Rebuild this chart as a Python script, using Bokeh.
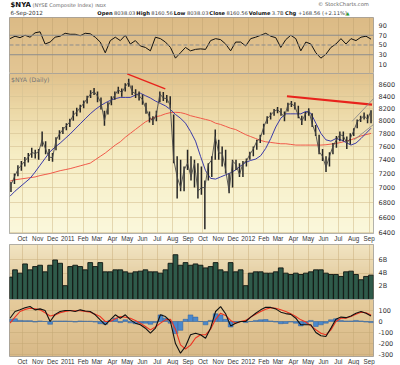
import numpy as np
import pandas as pd
from bokeh.plotting import figure
from bokeh.layouts import column
from bokeh.models import Range1d, FixedTicker, Span
from bokeh.core.properties import value
from bokeh.embed import file_html
from bokeh.resources import INLINE

# ---------------- data ----------------
WEEK_START = "2010-09-08"          # weekly price bars
price_close = [7040, 7150, 7260, 7320, 7380, 7440, 7510, 7490, 7520, 7700,
               7560, 7440, 7430, 7690, 7790, 7860, 7920, 7980, 8090, 8140,
               8210, 8280, 8360, 8440, 8480, 8400, 8290, 8000, 8240, 8330,
               8420, 8510, 8460, 8560, 8640, 8480, 8440, 8410, 8340, 8190,
               8060, 7990, 8100, 8440, 8370, 8360, 8250, 7400, 7150, 7000,
               7250, 7350, 7150, 7350, 6950, 7000, 7000, 7330, 7400, 7750,
               7500, 7500, 7250, 6950, 7380, 7330, 7180, 7350, 7380, 7480,
               7560, 7680, 7720, 7900, 8030, 8090, 8150, 8180, 8120, 8060,
               8260, 8280, 8230, 8080, 7990, 8100, 8170, 7950, 7800, 7520,
               7450, 7290, 7450, 7600, 7700, 7780, 7760, 7650, 7720, 7840,
               7980, 8030, 8080, 8020, 8160]
price_high = [7080, 7200, 7320, 7380, 7440, 7500, 7580, 7550, 7560, 7830,
              7680, 7560, 7500, 7740, 7850, 7900, 7960, 8030, 8160, 8210,
              8260, 8330, 8410, 8500, 8540, 8480, 8380, 8160, 8300, 8400,
              8480, 8560, 8530, 8620, 8700, 8580, 8520, 8480, 8430, 8290,
              8150, 8070, 8160, 8480, 8470, 8420, 8400, 8100, 7450, 7400,
              7300, 7550, 7450, 7400, 7350, 7300, 7100, 7350, 7450, 7860,
              7700, 7600, 7550, 7200, 7400, 7400, 7350, 7380, 7420, 7520,
              7600, 7700, 7780, 7950, 8070, 8130, 8190, 8220, 8200, 8150,
              8290, 8320, 8300, 8240, 8080, 8140, 8200, 8120, 7930, 7780,
              7560, 7450, 7510, 7650, 7760, 7830, 7830, 7750, 7800, 7880,
              8020, 8080, 8130, 8100, 8170]
price_low = [6940, 7050, 7160, 7240, 7300, 7360, 7430, 7420, 7400, 7600,
             7480, 7380, 7370, 7540, 7700, 7790, 7850, 7900, 8000, 8070,
             8130, 8200, 8280, 8370, 8420, 8300, 8180, 7920, 8100, 8250,
             8340, 8440, 8390, 8480, 8560, 8420, 8370, 8330, 8260, 8110,
             7970, 7930, 7990, 8300, 8320, 8290, 8200, 7350, 6850, 6950,
             6950, 7250, 7100, 7000, 6850, 6900, 6440, 7100, 7150, 7400,
             7400, 7300, 7200, 6920, 7000, 7250, 7150, 7150, 7300, 7400,
             7450, 7550, 7650, 7780, 7950, 8020, 8080, 8120, 8080, 7990,
             8150, 8220, 8180, 8040, 7930, 8000, 8080, 7900, 7760, 7480,
             7380, 7220, 7300, 7480, 7580, 7680, 7680, 7560, 7630, 7760,
             7880, 7980, 8020, 7960, 7960]

GRID_START, GRID_END = "2010-09-06", "2012-09-05"   # ~10-day sampling grid
rsi14 = [63, 68, 65, 70, 66, 75, 77, 52, 56, 66, 68, 74, 72, 72, 69, 74, 73, 66, 56, 34,
         59, 66, 59, 70, 52, 59, 48, 45, 38, 66, 63, 56, 45, 23, 34, 45, 38, 41, 42,
         41, 59, 63, 61, 52, 38, 56, 56, 48, 63, 66, 70, 74, 68, 65, 45, 61, 70, 63, 38,
         56, 52, 34, 23, 31, 45, 52, 63, 52, 63, 59, 66, 68, 62]
sma50 = [6880, 6950, 7010, 7070, 7130, 7220, 7320, 7420, 7520, 7590,
         7650, 7720, 7790, 7870, 7950, 8030, 8110, 8180, 8240, 8290,
         8330, 8360, 8380, 8380, 8380, 8420, 8450, 8410, 8370, 8320,
         8280, 8240, 8180, 8100, 8040, 7960, 7830, 7680, 7450, 7240,
         7130, 7120, 7150, 7180, 7210, 7250, 7310, 7360, 7390, 7410,
         7460, 7570, 7720, 7900, 8040, 8110, 8110, 8110, 8110, 8150,
         8120, 7960, 7800, 7700, 7680, 7720, 7700, 7660, 7620, 7650,
         7720, 7800, 7880]
sma200 = [7090, 7110, 7120, 7130, 7140, 7150, 7170, 7185, 7200, 7220,
          7240, 7255, 7270, 7290, 7310, 7330, 7350, 7400, 7450, 7500,
          7560, 7620, 7670, 7740, 7800, 7860, 7920, 7980, 8020, 8060,
          8080, 8110, 8130, 8135, 8130, 8110, 8080, 8060, 8040, 8020,
          8000, 7960, 7940, 7910, 7880, 7860, 7820, 7780, 7750, 7720,
          7690, 7670, 7660, 7650, 7640, 7640, 7630, 7620, 7620, 7620,
          7620, 7620, 7620, 7625, 7635, 7645, 7660, 7680, 7700, 7730,
          7760, 7780, 7800]
volume_bn = [3.4, 4.5, 4.0, 5.4, 4.5, 5.0, 5.2, 4.2, 5.2, 6.0, 5.5, 2.1, 5.0, 5.2, 5.0,
             4.5, 5.6, 5.0, 5.6, 4.2, 4.2, 4.5, 4.5, 4.2, 4.0, 4.2, 4.3, 4.5, 4.2, 4.2,
             4.0, 4.5, 5.5, 6.8, 5.2, 5.6, 5.2, 5.4,
             5.2, 4.8, 5.0, 5.6, 4.5, 4.2, 5.6, 4.2, 4.5, 2.1, 4.0, 4.2, 4.2, 4.0, 4.0,
             4.2, 4.8, 4.0, 3.8, 4.0, 3.8, 4.0, 4.2, 4.5, 4.5, 4.0, 3.8, 3.8, 3.5, 4.2,
             4.3, 3.8, 3.0, 3.5, 3.7]
macd_line = [30, 91, 106, 125, 136, 106, 115, 100, 0, 65,
             91, 100, 100, 91, 106, 95, 91, 61, 15, -30,
             15, 61, 30, 61, 15, -15, -30, -61, -106, -61,
             61, 45, 0, -200, -288, -227, -121, -106, -121, -152,
             -61, 91, 135, 70, -40, -15, 0, 0, 40, 75,
             106, 130, 128, 115, 85, 72, 65, 30, -30, -30,
             -30, -100, -130, -136, -60, 20, 40, 35, 50, 75,
             91, 75, 50]
macd_signal = [-15, 40, 91, 110, 121, 115, 106, 80, 50, 60,
               80, 92, 98, 98, 98, 92, 85, 65, 45, 0,
               0, 25, 45, 38, 30, 10, -15, -45, -76, -50,
               -15, 15, 20, -70, -212, -250, -215, -150, -121, -121,
               -70, 20, 76, 55, 10, -15, 0, 10, 40, 65,
               91, 112, 125, 120, 106, 90, 70, 45, 15, -5,
               -40, -75, -106, -121, -76, 0, 30, 30, 45, 65,
               85, 80, 60]
macd_hist = [20, 25, 10, 8, 8, -5, 5, 0, -25, 5,
             5, 5, 3, -5, 5, 3, 3, -5, -20, -25,
             10, 30, -10, 15, -12, -20, -15, -15, -25, -10,
             60, 30, -15, -110, -80, 20, 60, 40, 0, -30,
             10, 70, 60, 20, -50, -5, 0, -10, 0, 10,
             15, 18, 5, -5, -20, -18, -5, -15, -40, -25,
             10, -45, -30, -15, 15, 25, 10, 5, 5, 10,
             5, -5, -10]

trend2011_dates, trend2011_vals = ["2011-05-01", "2011-07-17"], [8785, 8526]
trend2012_dates, trend2012_vals = ["2012-03-19", "2012-09-07"], [8400, 8260]
chan_up_dates, chan_up_vals = ["2012-07-29", "2012-09-10"], [7990, 8360]
chan_lo_dates, chan_lo_vals = ["2012-08-02", "2012-09-10"], [7700, 7940]

month_labels = ["Oct", "Nov", "Dec", "2011", "Feb", "Mar", "Apr", "May", "Jun", "Jul", "Aug", "Sep",
                "Oct", "Nov", "Dec", "2012", "Feb", "Mar", "Apr", "May", "Jun", "Jul", "Aug", "Sep"]
price_ticks = [6400, 6600, 6800, 7000, 7200, 7400, 7600, 7800, 8000, 8200, 8400, 8600]
rsi_ticks = [10, 30, 50, 70, 90]
vol_ticks, vol_labels = [2, 4, 6], ["2B", "4B", "6B"]
macd_ticks = [-300, -200, -100, 0, 100]

hdr_symbol, hdr_name, hdr_exch = "$NYA", "(NYSE Composite Index)", "INDX"
hdr_date = "6-Sep-2012"
quote_keys = ["Open", "High", "Low", "Close", "Volume", "Chg"]
quote_vals = ["8038.03", "8160.56", "8038.03", "8160.56", "3.7B", "+168.56 (+2.11%)"]
copyright_txt = "\u00a9 StockCharts.com"

# ---------------- helpers ----------------
def ms(d):
    return int(pd.Timestamp(d).value // 10**6)

wk = pd.date_range(WEEK_START, periods=len(price_close), freq="7D")
gd = pd.date_range(GRID_START, GRID_END, periods=len(rsi14))
DAY = 86400000
X0, X1 = ms("2010-09-05"), ms("2012-09-10")
xr = Range1d(X0, X1)
month_ms = [ms(d) for d in pd.date_range("2010-10-01", "2012-09-01", freq="MS")]
AX_FONT = "DejaVu Sans"
X_FONT = "Liberation Sans"
FW = 364
TOTAL_W = 398

def hex2rgb(h):
    return [int(h[i:i + 2], 16) for i in (1, 3, 5)]

def gradient(p, stops, y0, y1, n=120):
    t = np.linspace(1, 0, n)  # row 0 is bottom (t=1), last row top (t=0)
    ts = [s[0] for s in stops]
    cols = np.array([hex2rgb(s[1]) for s in stops], dtype=float)
    img = np.zeros((n, 1), dtype=np.uint32)
    v = img.view(dtype=np.uint8).reshape((n, 1, 4))
    for k in range(3):
        v[:, 0, k] = np.interp(t, ts, cols[:, k]).astype(np.uint8)
    v[:, 0, 3] = 255
    p.image_rgba(image=[img], x=X0, y=y0, dw=X1 - X0, dh=y1 - y0, level="image")

def panel(fh, y0, y1, ticks, labels=None, ylog=False, xaxis=False, stops=None,
          gridc="#cdb282", galpha=0.55, ygrid=True, bottom=0):
    p = figure(frame_width=FW, frame_height=fh, x_range=xr, y_range=Range1d(y0, y1),
               y_axis_type="log" if ylog else "linear", y_axis_location="right",
               x_axis_location="below" if xaxis else None,
               output_backend="svg", toolbar_location=None, tools="",
               min_border_left=9, min_border_right=TOTAL_W - 9 - FW,
               min_border_top=0, min_border_bottom=bottom)
    p.outline_line_color = "#9c9c9c"
    p.border_fill_color = "white"
    gradient(p, stops, y0, y1)
    ya = p.yaxis[0]
    ya.ticker = FixedTicker(ticks=ticks)
    labs = labels if labels is not None else [str(t) for t in ticks]
    ya.major_label_overrides = {t: l for t, l in zip(ticks, labs)}
    ya.axis_line_color = None
    ya.major_tick_line_color = None
    ya.minor_tick_line_color = None
    ya.major_tick_out = 0
    ya.major_tick_in = 0
    ya.minor_tick_out = 0
    ya.major_label_standoff = 5
    ya.major_label_text_font = AX_FONT
    ya.major_label_text_font_size = "6.5px"
    ya.major_label_text_color = "#333333"
    p.xgrid.ticker = FixedTicker(ticks=month_ms)
    p.xgrid.grid_line_color = gridc
    p.xgrid.grid_line_alpha = galpha
    if ygrid:
        p.ygrid.ticker = FixedTicker(ticks=ticks)
        p.ygrid.grid_line_color = gridc
        p.ygrid.grid_line_alpha = galpha
    else:
        p.ygrid.visible = False
    if xaxis:
        xa = p.xaxis[0]
        xa.ticker = FixedTicker(ticks=month_ms)
        xa.major_label_overrides = {t: l for t, l in zip(month_ms, month_labels)}
        xa.axis_line_color = None
        xa.major_tick_line_color = None
        xa.minor_tick_line_color = None
        xa.major_tick_out = 0
        xa.major_tick_in = 0
        xa.minor_tick_out = 0
        xa.major_label_standoff = 1
        xa.major_label_text_font = X_FONT
        xa.major_label_text_font_size = "6.3px"
        xa.major_label_text_color = "#333333"
    return p

# ---------------- header (DejaVu Sans metrics, per 1000 em) ----------------
REG = {" ": 318, "$": 636, "(": 390, ")": 390, "N": 748, "Y": 611, "S": 635, "E": 632, "C": 698,
       "o": 612, "m": 974, "p": 635, "s": 521, "i": 278, "t": 392, "e": 615, "I": 295, "n": 634,
       "d": 635, "x": 592, "D": 770, "X": 685, ".": 318, "+": 838, "%": 950, "B": 686, "-": 361}
BOLD = {"O": 850, "p": 716, "e": 678, "n": 712, "H": 837, "i": 343, "g": 716, "h": 712, "L": 637,
        "o": 687, "w": 924, "C": 734, "l": 343, "s": 595, "V": 774, "u": 712, "m": 1042,
        "$": 696, "N": 837, "Y": 724, "A": 774}

def tw(s, size, bold=False):
    tab = BOLD if bold else REG
    return sum(tab.get(c, 636) for c in s) / 1000.0 * size

HH = 17
hdr = figure(width=TOTAL_W, height=HH, x_range=Range1d(0, TOTAL_W), y_range=Range1d(0, HH),
             output_backend="svg", toolbar_location=None, tools="", min_border=0,
             x_axis_location=None, y_axis_location=None)
hdr.xgrid.visible = False
hdr.ygrid.visible = False
hdr.outline_line_color = None
hdr.border_fill_color = "white"
hdr.background_fill_color = "white"
HF = value(AX_FONT)
L1, L2 = 12.3, 4.3
hdr.text(x=[1], y=[L1], text=[hdr_symbol], text_font=HF, text_font_size=value("7px"),
         text_font_style="bold", text_color="#111111", text_baseline="middle")
xn = 1 + tw(hdr_symbol, 7, True) + 3
hdr.text(x=[xn], y=[L1], text=[hdr_name], text_font=HF, text_font_size=value("5px"),
         text_color="#666666", text_baseline="middle")
xe = xn + tw(hdr_name, 5) * 1.08 + 3
hdr.text(x=[xe], y=[L1 - 0.2], text=[hdr_exch], text_font=HF, text_font_size=value("4.3px"),
         text_color="#666666", text_baseline="middle")
hdr.text(x=[TOTAL_W - 5], y=[L1 + 1.2], text=[copyright_txt], text_font=HF,
         text_font_size=value("5.2px"), text_color="#666666", text_baseline="middle",
         text_align="right")
hdr.text(x=[1], y=[L2], text=[hdr_date], text_font=HF, text_font_size=value("5.6px"),
         text_color="#333333", text_baseline="middle")
QF = 5.2
kx, vx = [], []
cur = 96.0
sp = tw(" ", QF) + 0.9
for k, v in zip(quote_keys, quote_vals):
    kx.append(cur)
    cur += tw(k, QF, True) * 1.02 + sp
    vx.append(cur)
    cur += tw(v, QF) * 1.02 + sp
hdr.text(x=kx, y=[L2] * len(kx), text=quote_keys, text_font=HF, text_font_size=value("5.2px"),
         text_font_style="bold", text_color="#111111", text_baseline="middle")
hdr.text(x=vx, y=[L2] * len(vx), text=quote_vals, text_font=HF, text_font_size=value("5.2px"),
         text_color="#444444", text_baseline="middle")
hdr.text(x=[cur], y=[L2], text=["\u25b2"], text_font=HF, text_font_size=value("4.5px"),
         text_color="#2a9a2a", text_baseline="middle")

# ---------------- RSI panel ----------------
rsi_p = panel(56, -8.5, 106.4, rsi_ticks, stops=[(0, "#dcbb86"), (1, "#e3c694")],
              gridc="#c4a774", galpha=0.6, ygrid=False)
for lv, dash in ((70, "solid"), (30, "solid"), (50, "4 2")):
    rsi_p.add_layout(Span(location=lv, dimension="width", line_color="#8c8c8c",
                          line_width=1, line_dash=dash))
rsi_p.line(x=gd, y=rsi14, line_color="#111111", line_width=1)

# ---------------- price panel ----------------
pr = panel(160, 6387, 8790, price_ticks, ylog=True, xaxis=True, bottom=10,
           stops=[(0, "#e1c28d"), (0.22, "#ecd8a6"), (0.5, "#f6edc4"), (1, "#fbf8dc")],
           gridc="#d6c293", galpha=0.6)
pr.line(x=gd, y=sma200, line_color="#f05a4a", line_width=1)
pr.line(x=gd, y=sma50, line_color="#3a3aa8", line_width=1)
pr.segment(x0=wk, y0=price_low, x1=wk, y1=price_high, line_color="#262626", line_width=1.5)
pr.line(x=wk, y=price_close, line_color="#4a4a4a", line_width=0.9)
pr.line(x=pd.to_datetime(trend2011_dates), y=trend2011_vals, line_color="#e8231c", line_width=1.4)
pr.line(x=pd.to_datetime(trend2012_dates), y=trend2012_vals, line_color="#e8231c", line_width=2.2)
pr.line(x=pd.to_datetime(chan_up_dates), y=chan_up_vals, line_color="#8a8a8a", line_width=0.9)
pr.line(x=pd.to_datetime(chan_lo_dates), y=chan_lo_vals, line_color="#8a8a8a", line_width=0.9)
pr.text(x=[ms("2010-09-08")], y=[8745], text=["$NYA (Daily)"], text_font=value(AX_FONT),
        text_font_size=value("6.2px"), text_color="#777777", text_baseline="top")

# ---------------- volume panel ----------------
vol = panel(55, 0, 8.35, vol_ticks, labels=vol_labels, stops=[(0, "#f2e5c3"), (1, "#dcbf8d")],
            gridc="#c9ad7c", galpha=0.5)
vol.vbar(x=gd, top=volume_bn, bottom=0, width=9.6 * DAY, fill_color="#2f5a4a",
         line_color="#101512", line_width=0.9)

# ---------------- MACD panel ----------------
mp = panel(57, -318, 200, macd_ticks, xaxis=True, bottom=9,
           stops=[(0, "#e6cc9c"), (1, "#d8b988")], gridc="#c4a774", galpha=0.5)
mp.vbar(x=gd, top=macd_hist, bottom=0, width=9.6 * DAY, fill_color="#4a88cc",
        line_color="#2c5f9e", line_width=0.5)
mp.line(x=gd, y=macd_signal, line_color="#ee3322", line_width=1.1)
mp.line(x=gd, y=macd_line, line_color="#111111", line_width=1.1)

layout = column(hdr, rsi_p, pr, vol, mp, spacing=0)
with open("out.html", "w", encoding="utf-8") as f:
    f.write(file_html(layout, INLINE, title="NYA"))
